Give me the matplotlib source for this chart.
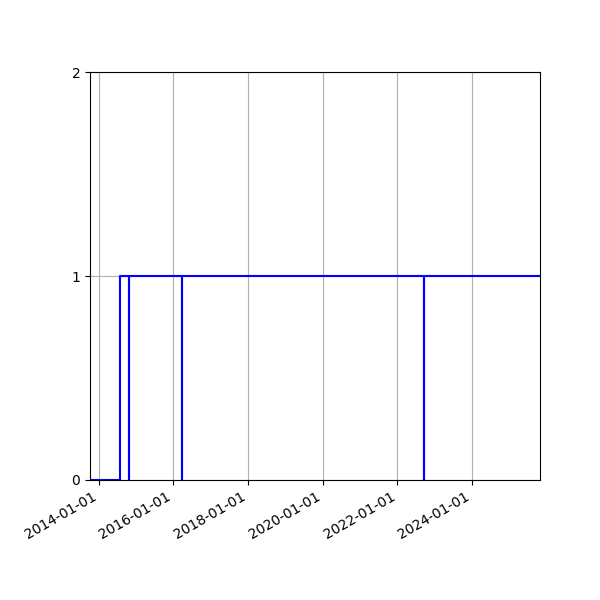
import matplotlib
matplotlib.use("Agg")
import matplotlib.pyplot as plt
import matplotlib.dates as mdates
import pandas as pd

dates = ["2013-10-08", "2014-07-26", "2014-10-22", "2014-10-24",
         "2016-03-25", "2016-03-27", "2022-09-20", "2022-09-22", "2025-10-28"]
values = [0, 1, 0, 1, 0, 1, 0, 1, 1]

x = pd.to_datetime(dates)

fig, ax = plt.subplots(figsize=(6, 6), dpi=100)
ax.step(x, values, where="post", color="blue", linewidth=1.5)
ax.set_xlim(x[0], x[-1])
ax.set_ylim(0, 2)
ax.set_yticks([0, 1, 2])
ax.xaxis.set_major_locator(mdates.YearLocator(2))
ax.xaxis.set_major_formatter(mdates.DateFormatter("%Y-%m-%d"))
ax.grid(True)
fig.autofmt_xdate()
fig.subplots_adjust(left=0.15, right=0.9, top=0.88, bottom=0.2)
fig.savefig("out.png", dpi=100)
